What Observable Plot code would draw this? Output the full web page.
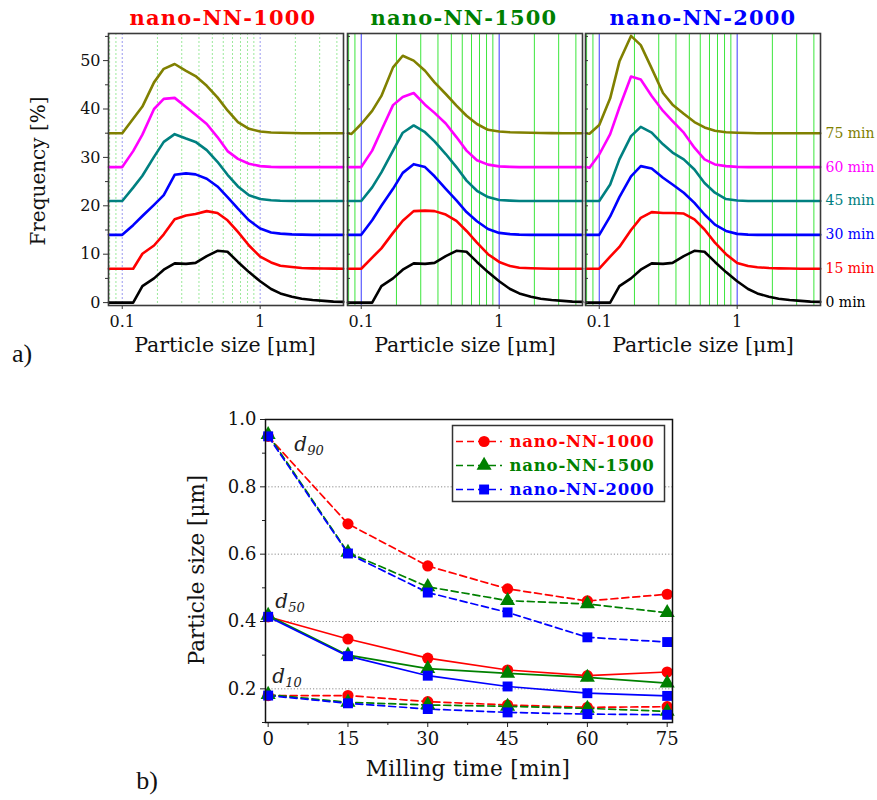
<!DOCTYPE html>
<html>
<head>
<meta charset="utf-8">
<script src="https://cdn.jsdelivr.net/npm/d3@7"></script>
<script src="https://cdn.jsdelivr.net/npm/@observablehq/plot@0.6"></script>
<style>
  body { margin: 0; background: #fff; }
  #fig { position: relative; width: 877px; height: 800px; overflow: hidden; font-family: "DejaVu Serif", serif; color: #111; }
  #fig svg { position: absolute; overflow: visible; }
  .t { position: absolute; white-space: nowrap; line-height: 1; }
</style>
</head>
<body>
<div id="fig"></div>
<script>
// ---- a) particle size distributions -------------------------------------
const sizeBins = [0.08, 0.085, 0.1, 0.12, 0.14, 0.17, 0.2, 0.24, 0.29, 0.34, 0.41, 0.49,
                  0.58, 0.69, 0.83, 1, 1.2, 1.4, 1.7, 2, 2.4, 2.9, 3.4, 4];

// starting powder (0 min) is the same for all three mills
const freq0min = [0, 0, 0, 0, 3.4, 5.0, 6.8, 8.1, 8.0, 8.2, 9.6, 10.7, 10.5, 8.4, 6.3, 4.4, 2.8, 1.9, 1.2, 0.8, 0.55, 0.35, 0.2, 0.15];

const nn1000_15 = [0, 0, 0, 0, 3.1, 4.8, 7.1, 10.2, 11.0, 11.3, 11.9, 11.5, 10.0, 7.6, 4.8, 2.5, 1.3, 0.6, 0.35, 0.15, 0.08, 0.05, 0.02, 0];
const nn1000_30 = [0, 0, 0, 2.0, 3.9, 6.2, 8.2, 12.4, 12.7, 12.5, 11.6, 10.0, 7.8, 5.4, 3.0, 1.3, 0.5, 0.25, 0.1, 0.05, 0, 0, 0, 0];
const nn1000_45 = [0, 0, 0, 2.75, 5.2, 9.1, 12.2, 13.8, 12.9, 12.2, 10.5, 8.1, 5.4, 3.0, 1.2, 0.4, 0.15, 0.05, 0, 0, 0, 0, 0, 0];
const nn1000_60 = [0, 0, 0, 3.3, 6.7, 12.0, 14.1, 14.3, 12.4, 10.8, 8.9, 6.2, 3.3, 1.7, 0.7, 0.2, 0.05, 0, 0, 0, 0, 0, 0, 0];
const nn1000_75 = [0, 0, 0, 3.0, 5.5, 10.5, 13.3, 14.3, 12.9, 11.8, 9.8, 7.4, 4.7, 2.3, 0.9, 0.35, 0.15, 0.1, 0.05, 0, 0, 0, 0, 0];

const nn1500_15 = [0, 0, 0, 2.3, 4.2, 7.4, 9.9, 11.9, 12.0, 11.9, 11.2, 9.9, 7.8, 5.4, 3.0, 1.4, 0.55, 0.2, 0.1, 0.05, 0, 0, 0, 0];
const nn1500_30 = [0, 0, 0, 3.0, 6.0, 9.5, 12.8, 14.6, 14.0, 12.1, 9.5, 7.1, 4.7, 2.8, 1.2, 0.4, 0.15, 0.05, 0, 0, 0, 0, 0, 0];
const nn1500_45 = [0, 0, 0, 2.8, 5.9, 10.4, 14.1, 15.6, 14.2, 12.3, 9.7, 7.0, 4.2, 2.1, 0.8, 0.2, 0.07, 0, 0, 0, 0, 0, 0, 0];
const nn1500_60 = [0, 0, 0, 3.4, 7.6, 12.8, 14.5, 15.3, 12.9, 11.2, 9.0, 6.2, 3.4, 1.4, 0.5, 0.15, 0.05, 0, 0, 0, 0, 0, 0, 0];
const nn1500_75 = [0, -0.15, 1.9, 4.6, 7.7, 13.6, 16.0, 15.0, 12.9, 10.5, 8.1, 5.7, 3.6, 1.9, 0.7, 0.35, 0.2, 0.15, 0.1, 0.05, 0.02, 0, 0, 0];

const nn2000_15 = [0, 0, 0, 2.5, 4.5, 8.0, 10.5, 11.7, 11.5, 11.5, 11.4, 10.2, 8.1, 5.4, 3.0, 1.2, 0.55, 0.3, 0.15, 0.08, 0.04, 0, 0, 0];
const nn2000_30 = [0, 0, 0, 3.8, 7.8, 12.1, 14.2, 13.7, 11.8, 10.4, 8.7, 6.6, 4.2, 2.1, 0.8, 0.2, 0.05, 0, 0, 0, 0, 0, 0, 0];
const nn2000_45 = [0, 0, 0, 3.4, 8.6, 13.4, 15.3, 14.1, 11.7, 10.0, 8.6, 6.5, 3.7, 1.7, 0.4, 0.1, 0, 0, 0, 0, 0, 0, 0, 0];
const nn2000_60 = [0, -0.15, 2.6, 6.8, 12.3, 18.7, 18.1, 14.7, 11.6, 9.5, 7.1, 4.0, 1.6, 0.55, 0.2, 0.05, 0, 0, 0, 0, 0, 0, 0, 0];
const nn2000_75 = [0, -0.1, 1.7, 7.2, 14.8, 20.1, 18.2, 13.4, 8.3, 5.9, 4.0, 2.3, 1.2, 0.5, 0.2, 0.1, 0.05, 0, 0, 0, 0, 0, 0, 0];

const millTimes = [0, 15, 30, 45, 60, 75];
const timeColors = ["#000000", "#ff0000", "#0000ff", "#008080", "#ff00ff", "#808000"];
const offsetStep = 7;          // vertical shift between stacked curves
const freqTicks = [0, 10, 20, 30, 40, 50];
const freqMinorTicks = [5, 15, 25, 35, 45, 55];
const sizeTicks = [0.1, 1];
const gridGreen = [0.081, 0.09, 0.18, 0.27, 0.36, 0.45, 0.54, 0.63, 0.72, 0.81, 0.9, 1.8, 2.7, 3.6];
const gridBlue = [0.1, 1];

// ---- b) characteristic diameters vs milling time ---------------------------
const d90_1000 = [0.95, 0.69, 0.565, 0.497, 0.461, 0.481];
const d90_1500 = [0.955, 0.605, 0.503, 0.462, 0.452, 0.426];
const d90_2000 = [0.95, 0.602, 0.486, 0.427, 0.353, 0.339];
const d50_1000 = [0.414, 0.348, 0.291, 0.256, 0.239, 0.25];
const d50_1500 = [0.418, 0.3, 0.26, 0.246, 0.234, 0.217];
const d50_2000 = [0.414, 0.297, 0.239, 0.207, 0.187, 0.179];
const d10_1000 = [0.18, 0.18, 0.162, 0.152, 0.145, 0.147];
const d10_1500 = [0.183, 0.16, 0.152, 0.148, 0.142, 0.133];
const d10_2000 = [0.18, 0.157, 0.14, 0.13, 0.125, 0.123];

const millNames = ["nano-NN-1000", "nano-NN-1500", "nano-NN-2000"];
const millColors = ["#ff0000", "#008000", "#0000ff"];
const millSymbols = ["circle", "triangle", "square"];
const sizeAxisTicks = [0.2, 0.4, 0.6, 0.8, 1.0];
const sizeAxisMinor = [0.1, 0.3, 0.5, 0.7, 0.9];
const timeMinorTicks = [7.5, 22.5, 37.5, 52.5, 67.5];

// ---------------------------------------------------------------------------
const fig = document.getElementById("fig");
const SERIF = "DejaVu Serif";

function put(node, left, top) {
  node.style.left = left + "px";
  node.style.top = top + "px";
  fig.appendChild(node);
}

function label(html, cx, cy, css = "", rot = 0) {
  const d = document.createElement("div");
  d.className = "t";
  d.innerHTML = html;
  d.style.cssText += `left:${cx}px;top:${cy}px;transform:translate(-50%,-50%) rotate(${rot}deg);${css}`;
  fig.appendChild(d);
}

function distributionPanel(curves, opts) {
  const {left, width, ml, mr, solidGrid, first, last} = opts;
  const marks = [];
  // vertical grid
  marks.push(Plot.ruleX(gridGreen, solidGrid
    ? {stroke: "#3ce63c", strokeWidth: 1}
    : {stroke: "#9be99b", strokeWidth: 1, strokeDasharray: "2,2"}));
  marks.push(Plot.ruleX(gridBlue, solidGrid
    ? {stroke: "#3a3aff", strokeWidth: 1}
    : {stroke: "#9a9af0", strokeWidth: 1, strokeDasharray: "2,2"}));
  // stacked curves
  curves.forEach((vals, i) => {
    marks.push(Plot.line(vals, {
      x: (d, j) => sizeBins[j],
      y: d => d + i * offsetStep,
      stroke: timeColors[i], strokeWidth: 2.6, strokeLinejoin: "round"
    }));
  });
  if (first) {
    marks.push(Plot.axisY(freqTicks, {tickSize: 5, tickPadding: 3, stroke: "#333"}));
    marks.push(Plot.axisY(freqMinorTicks, {tickSize: 3, tickFormat: () => "", stroke: "#333"}));
  } else {
    marks.push(Plot.axisY(freqTicks.concat(freqMinorTicks), {tickSize: 3, dx: 3, tickFormat: () => "", stroke: "#333"}));
  }
  marks.push(Plot.axisX(sizeTicks, {tickSize: 4, tickPadding: 6, tickFormat: d => String(d), stroke: "#333"}));
  if (last) {
    marks.push(Plot.text(millTimes, {
      frameAnchor: "right",
      y: (t, i) => i * offsetStep,
      text: t => `${t} min`,
      fill: (t, i) => timeColors[i],
      textAnchor: "start", dx: 5, fontSize: 14
    }));
  }
  marks.push(Plot.frame({stroke: "#3a3a3a", strokeWidth: 1.6}));

  const svg = Plot.plot({
    width, height: 330,
    marginLeft: ml, marginRight: mr, marginTop: 33, marginBottom: 25,
    x: {type: "log", domain: [0.0795, 4.02], label: null},
    y: {domain: [-0.6, 55.6], label: null},
    color: {type: "identity"},
    style: {fontFamily: SERIF, fontSize: "16px", color: "#111", background: "transparent", overflow: "visible"},
    marks
  });
  put(svg, left, 0);
}

distributionPanel([freq0min, nn1000_15, nn1000_30, nn1000_45, nn1000_60, nn1000_75],
  {left: 0, width: 345, ml: 108, mr: 2, solidGrid: false, first: true});
distributionPanel([freq0min, nn1500_15, nn1500_30, nn1500_45, nn1500_60, nn1500_75],
  {left: 344, width: 241, ml: 3, mr: 3, solidGrid: true});
distributionPanel([freq0min, nn2000_15, nn2000_30, nn2000_45, nn2000_60, nn2000_75],
  {left: 582, width: 295, ml: 3, mr: 57, solidGrid: true, last: true});

// panel titles and axis titles
const titleCss = "font-weight:bold;font-size:21px;letter-spacing:1.2px;";
label(millNames[0], 223, 17, titleCss + `color:${millColors[0]}`);
label(millNames[1], 464, 17, titleCss + `color:${millColors[1]}`);
label(millNames[2], 703, 17, titleCss + "color:#0000ff");
const axisCss = "font-size:20.5px;color:#111;";
label("Particle size [μm]", 225, 345, axisCss);
label("Particle size [μm]", 465, 345, axisCss);
label("Particle size [μm]", 703, 345, axisCss);
label("Frequency [%]", 38, 171, "font-size:20px;color:#111;", -90);
label("a)", 22, 354, "font-family:'Liberation Serif',serif;font-size:26px;");

// ---- bottom chart ----------------------------------------------------------
const diameterSets = [
  {key: "d90", sets: [d90_1000, d90_1500, d90_2000], dash: "7,4"},
  {key: "d50", sets: [d50_1000, d50_1500, d50_2000], dash: null},
  {key: "d10", sets: [d10_1000, d10_1500, d10_2000], dash: "7,4"}
];

const bottomMarks = [
  Plot.gridY([0.2, 0.4, 0.6, 0.8], {stroke: "#8a8a8a", strokeOpacity: 1, strokeDasharray: "1.2,2"}),
  Plot.axisX(millTimes, {tickSize: 5, tickPadding: 5, stroke: "#222"}),
  Plot.axisX(timeMinorTicks, {tickSize: 3, tickFormat: () => "", stroke: "#222"}),
  Plot.axisY(sizeAxisTicks, {tickSize: 5, tickPadding: 4, tickFormat: d3.format(".1f"), stroke: "#222"}),
  Plot.axisY(sizeAxisMinor, {tickSize: 3, tickFormat: () => "", stroke: "#222"})
];
diameterSets.forEach(({sets, dash}) => {
  sets.forEach((vals, m) => {
    bottomMarks.push(Plot.line(vals, {
      x: (d, i) => millTimes[i], y: d => d,
      stroke: millColors[m], strokeWidth: 1.7,
      strokeDasharray: dash || undefined
    }));
  });
});
diameterSets.forEach(({sets}) => {
  sets.forEach((vals, m) => {
    bottomMarks.push(Plot.dot(vals, {
      x: (d, i) => millTimes[i], y: d => d,
      symbol: millSymbols[m], fill: millColors[m], stroke: "none", r: 5.6
    }));
  });
});
bottomMarks.push(Plot.frame({stroke: "#111", strokeWidth: 1.5}));

const bottom = Plot.plot({
  width: 540, height: 395,
  marginLeft: 125, marginRight: 8, marginTop: 14, marginBottom: 78,
  x: {domain: [-0.5, 76], label: null},
  y: {domain: [0.1, 1.0], label: null},
  style: {fontFamily: SERIF, fontSize: "18px", color: "#111", background: "transparent", overflow: "visible"},
  marks: bottomMarks
});
put(bottom, 140, 405);

// legend
const legend = Plot.plot({
  width: 212, height: 76, margin: 0,
  x: {domain: [0, 1], range: [4, 50], axis: null},
  y: {type: "point", domain: millNames, range: [15, 64], padding: 0, axis: null},
  style: {fontFamily: SERIF, fontSize: "16.5px", background: "#fff", overflow: "visible"},
  marks: [
    ...millNames.map((n, m) => Plot.ruleY([n], {x1: 0, x2: 1, stroke: millColors[m], strokeWidth: 1.7, strokeDasharray: "7,4"})),
    ...millNames.map((n, m) => Plot.dot([n], {x: 0.6, y: d => d, symbol: millSymbols[m], fill: millColors[m], r: 5.6})),
    ...millNames.map((n, m) => Plot.text([n], {x: 1, y: d => d, text: d => d, dx: 7, textAnchor: "start", fill: millColors[m], fontWeight: "bold"})),
    Plot.frame({stroke: "#333", strokeWidth: 1.5})
  ]
});
legend.querySelectorAll("text").forEach(t => t.setAttribute("letter-spacing", "0.8"));
put(legend, 452, 425);

const dCss = "font-family:'DejaVu Serif',serif;font-style:italic;font-size:20px;color:#222;";
label("d<sub style='font-size:13px;vertical-align:-4px'>90</sub>", 309, 445, dCss);
label("d<sub style='font-size:13px;vertical-align:-4px'>50</sub>", 290, 602, dCss);
label("d<sub style='font-size:13px;vertical-align:-4px'>10</sub>", 287, 677, dCss);

label("Particle size [μm]", 197, 570, "font-size:21.5px;color:#111;", -90);
label("Milling time [min]", 468, 769, "font-size:21.5px;letter-spacing:0.4px;color:#111;");
label("b)", 147, 781, "font-family:'Liberation Serif',serif;font-size:26px;");
</script>
</body>
</html>
